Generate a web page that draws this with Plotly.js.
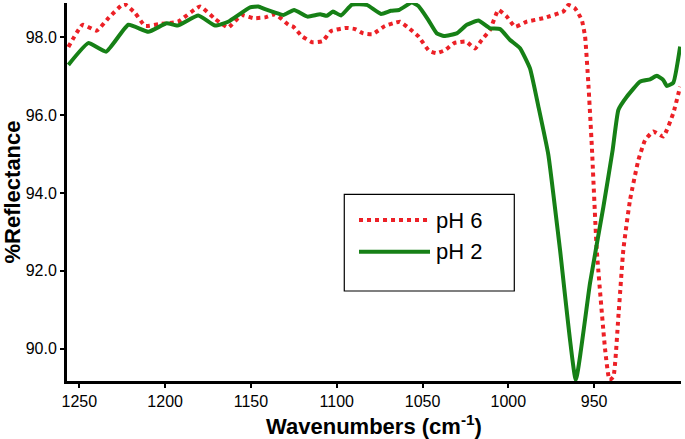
<!DOCTYPE html>
<html>
<head>
<meta charset="utf-8">
<script src="https://cdn.plot.ly/plotly-3.0.1.min.js"></script>
<style>html,body{margin:0;padding:0;background:#fff;}#chart{width:685px;height:439px;}</style>
</head>
<body>
<div id="chart"></div>
<script>
// Wavenumbers (cm-1) and %Reflectance
const wn_pH2 = [1256.4,1244.8,1234.4,1221.4,1209.8,1199.1,1192.8,1180.7,1170.9,1163.3,1150.5,1145.7,1141.8,1135.0,1131.1,1124.9,1117.0,1109.7,1105.8,1102.2,1097.5,1091.1,1082.5,1074.2,1068.4,1063.7,1056.3,1052.4,1046.6,1041.7,1037.5,1030.1,1024.2,1017.5,1010.7,1004.8,999.0,993.2,987.4,982.5,976.7,969.9,960.7,952.4,944.6,939.2,935.9,931.0,923.3,917.4,913.5,909.7,907.7,903.9,899.9];
const refl_pH2 = [97.29,97.85,97.63,98.32,98.14,98.36,98.30,98.56,98.30,98.40,98.77,98.79,98.72,98.62,98.57,98.70,98.53,98.59,98.55,98.66,98.56,98.84,98.83,98.60,98.68,98.70,98.89,98.80,98.44,98.10,98.03,98.10,98.32,98.43,98.23,98.21,97.93,97.72,97.20,96.22,94.98,92.54,89.20,91.69,93.65,95.11,96.13,96.47,96.86,96.92,97.01,96.90,96.75,96.83,97.76];

const wn_pH6 = [1256.4,1248.1,1239.9,1233.1,1224.0,1217.5,1211.7,1203.0,1192.5,1179.7,1170.9,1163.3,1155.5,1148.6,1141.8,1135.7,1128.2,1125.3,1120.4,1114.1,1108.3,1103.3,1094.6,1089.3,1084.5,1079.1,1071.9,1065.4,1063.1,1058.7,1052.4,1046.2,1041.8,1036.9,1031.6,1024.7,1019.4,1015.5,1010.7,1005.8,1000.9,996.1,989.3,979.6,968.0,965.0,961.1,957.2,955.3,953.4,951.4,948.5,943.6,941.1,938.8,935.9,933.0,929.1,924.2,920.3,915.5,909.7,903.9,899.9];
const refl_pH6 = [97.75,98.32,98.17,98.49,98.86,98.62,98.29,98.34,98.40,98.79,98.47,98.25,98.57,98.49,98.51,98.59,98.32,98.27,98.03,97.87,97.90,98.16,98.24,98.21,98.10,98.08,98.29,98.38,98.40,98.26,98.02,97.65,97.59,97.67,97.85,97.89,97.71,97.93,98.19,98.70,98.53,98.27,98.40,98.49,98.66,98.83,98.74,98.44,98.02,96.82,95.23,92.54,89.97,89.20,89.28,90.82,92.54,93.82,94.85,95.36,95.58,95.45,96.05,96.73];

const seriesNames = ['pH 6', 'pH 2'];
const xTickVals = [1250, 1200, 1150, 1100, 1050, 1000, 950];
const xTickText = ['1250', '1200', '1150', '1100', '1050', '1000', '950'];
const yTickVals = [90, 92, 94, 96, 98];
const yTickText = ['90.0', '92.0', '94.0', '96.0', '98.0'];

const RED = 'rgb(236,32,38)';
const GREEN = 'rgb(22,128,22)';
const FONT = 'Liberation Sans, Arial, sans-serif';

const traces = [
  {x: wn_pH6, y: refl_pH6, name: seriesNames[0], type: 'scatter', mode: 'lines',
   line: {color: RED, width: 4, dash: 'dot', shape: 'spline', smoothing: 0.4}},
  {x: wn_pH2, y: refl_pH2, name: seriesNames[1], type: 'scatter', mode: 'lines',
   line: {color: GREEN, width: 4, shape: 'spline', smoothing: 0.4}}
];

// legend box drawn in paper coordinates
const LB = {x0: 0.4516, x1: 0.7285, y0: 0.2381, y1: 0.4939};
const legendRows = [
  {y: 0.4259, color: RED, dash: 'dot'},
  {y: 0.3421, color: GREEN, dash: 'solid'}
];
const shapes = [
  {type: 'rect', xref: 'paper', yref: 'paper', x0: LB.x0, x1: LB.x1, y0: LB.y0, y1: LB.y1,
   line: {color: '#000', width: 1.2}, fillcolor: '#fff', layer: 'below'}
];
const annotations = [];
legendRows.forEach((r, i) => {
  shapes.push({type: 'line', xref: 'paper', yref: 'paper', x0: 0.4756, x1: 0.5912, y0: r.y, y1: r.y,
    line: {color: r.color, width: 4, dash: r.dash}});
  annotations.push({xref: 'paper', yref: 'paper', x: 0.598, y: r.y, xanchor: 'left', yanchor: 'middle',
    text: seriesNames[i], showarrow: false, font: {family: FONT, size: 22, color: '#000'}});
});

const layout = {
  width: 685, height: 439,
  margin: {l: 67, r: 4, t: 3, b: 58},
  paper_bgcolor: '#fff', plot_bgcolor: 'rgba(0,0,0,0)',
  showlegend: false,
  font: {family: FONT, color: '#000'},
  xaxis: {
    range: [1257.2, 899.4], showgrid: false, zeroline: false,
    showline: true, linecolor: '#000', linewidth: 3,
    ticks: 'outside', ticklen: 4, tickwidth: 2, tickcolor: '#000',
    tickvals: xTickVals, ticktext: xTickText,
    tickfont: {family: FONT, size: 16, color: '#000'},
    title: {text: 'Wavenumbers (cm<sup>-1</sup>)', font: {family: FONT, size: 22, weight: 'bold', color: '#000'}, standoff: 10}
  },
  yaxis: {
    range: [89.17, 98.88], showgrid: false, zeroline: false,
    showline: true, linecolor: '#000', linewidth: 3,
    ticks: 'outside', ticklen: 4, tickwidth: 2, tickcolor: '#000',
    tickvals: yTickVals, ticktext: yTickText,
    tickfont: {family: FONT, size: 16, color: '#000'},
    title: {text: '%Reflectance', font: {family: FONT, size: 22, weight: 'bold', color: '#000'}, standoff: 8}
  },
  shapes: shapes,
  annotations: annotations
};

Plotly.newPlot('chart', traces, layout, {displayModeBar: false, staticPlot: true});
</script>
</body>
</html>
